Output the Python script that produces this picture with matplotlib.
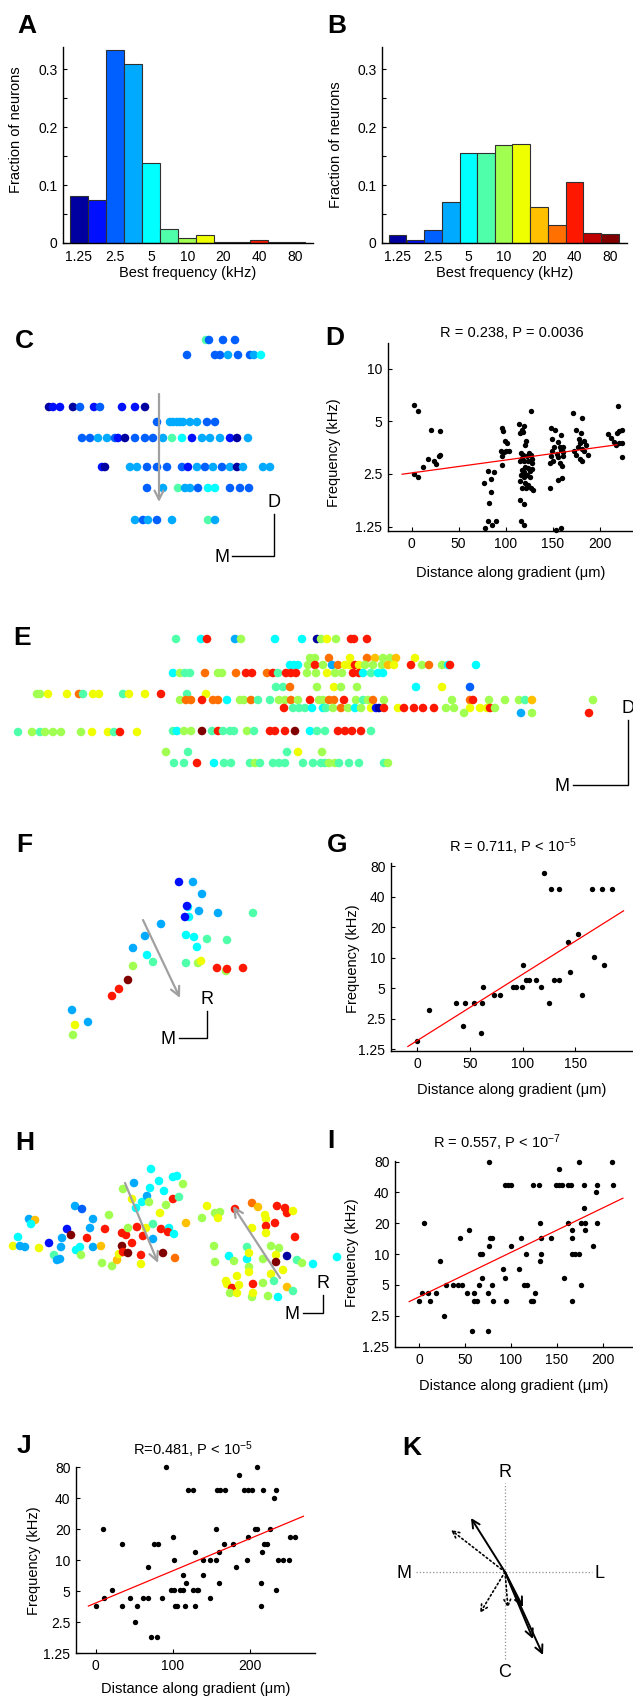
import matplotlib
matplotlib.use('Agg')
import matplotlib.pyplot as plt
from matplotlib.ticker import NullLocator

plt.rcParams['font.family'] = ['Liberation Sans', 'DejaVu Sans']
plt.rcParams['mathtext.fontset'] = 'custom'
plt.rcParams['mathtext.rm'] = 'Liberation Sans'
plt.rcParams['mathtext.it'] = 'Liberation Sans:italic'
plt.rcParams['font.size'] = 10.5

# ---------------- data ----------------
bin_khz = [1.25, 1.77, 2.5, 3.54, 5, 7.07, 10, 14.1, 20, 28.3, 40, 56.6, 80]
bin_colors = ['#0000a0', '#0010ff', '#0060ff', '#00aaff', '#00ffff', '#50ffaa',
              '#a0ff50', '#f0ff00', '#ffc000', '#ff7000', '#ff1800', '#c00000', '#800000']
freq_ticks = [1.25, 2.5, 5, 10, 20, 40, 80]
freq_labels = ['1.25', '2.5', '5', '10', '20', '40', '80']

frac_a = [0.081, 0.075, 0.332, 0.309, 0.138, 0.024, 0.009, 0.013, 0.002, 0.001, 0.006, 0.002, 0.002]
frac_b = [0.013, 0.005, 0.023, 0.071, 0.156, 0.155, 0.169, 0.171, 0.062, 0.031, 0.106, 0.018, 0.016]

# imaging field maps: (x, y, frequency bin)
map_c = [(206, 340, 5), (209, 340, 2), (223, 340, 2), (235, 340, 2),
         (187, 355, 2), (215, 355, 2), (220, 355, 2), (228, 355, 3), (238, 355, 2), (250, 355, 2), (254, 355, 3), (261, 355, 4),
         (49, 407, 0), (53, 407, 1), (60, 407, 1), (73, 407, 0), (80, 407, 2), (94, 407, 1), (100, 407, 2), (122, 407, 1), (135, 407, 1), (145, 407, 0),
         (157, 422, 2), (170, 422, 3), (173, 422, 3), (177, 422, 3), (180, 422, 3), (183, 422, 3), (190, 422, 3), (197, 422, 3), (207, 422, 2), (215, 422, 2),
         (82, 438, 2), (90, 438, 2), (98, 438, 3), (107, 438, 3), (115, 438, 2), (118, 438, 1), (125, 438, 0), (135, 438, 2), (145, 438, 2), (153, 438, 2),
         (163, 438, 3), (172, 438, 5), (182, 438, 4), (192, 438, 1), (202, 438, 3), (210, 438, 3), (220, 438, 3), (230, 438, 1), (237, 438, 0), (248, 438, 3),
         (102, 467, 1), (105, 467, 0), (130, 467, 3), (137, 467, 3), (147, 467, 2), (157, 467, 2), (167, 467, 2), (182, 467, 2), (188, 467, 1),
         (197, 467, 3), (205, 467, 2), (213, 467, 3), (222, 467, 2), (230, 467, 3), (237, 467, 0), (243, 467, 3), (263, 467, 3), (270, 467, 3),
         (147, 488, 2), (163, 488, 3), (178, 488, 5), (185, 488, 3), (190, 488, 3), (198, 488, 2), (208, 488, 4), (215, 488, 4), (230, 488, 2), (240, 488, 2), (249, 488, 2),
         (135, 520, 3), (143, 520, 2), (148, 520, 3), (157, 520, 2), (172, 520, 3), (208, 520, 5), (215, 520, 3)]

map_e = [(176, 639, 5), (201, 639, 4), (207, 639, 10), (235, 639, 3), (241, 639, 6), (275, 639, 4), (302, 639, 4), (317, 639, 0), (321, 639, 6),
         (327, 639, 7), (336, 639, 6), (351, 639, 10), (354, 639, 10), (367, 639, 10),
         (310, 658, 6), (315, 658, 6), (329, 658, 9), (350, 658, 7), (367, 658, 9), (375, 658, 8), (383, 658, 6), (390, 658, 6), (396, 658, 8), (415, 658, 7),
         (290, 665, 4), (294, 665, 4), (298, 665, 4), (308, 665, 6), (315, 665, 10), (323, 665, 6), (332, 665, 3), (338, 665, 9), (345, 665, 7), (350, 665, 7),
         (355, 665, 10), (359, 665, 7), (365, 665, 6), (373, 665, 6), (382, 665, 6), (388, 665, 8), (394, 665, 7), (411, 665, 10), (422, 665, 6), (429, 665, 9),
         (442, 665, 6), (448, 665, 4), (450, 665, 10), (476, 665, 4),
         (173, 673, 4), (180, 673, 6), (185, 673, 5), (190, 673, 5), (205, 673, 9), (218, 673, 6), (222, 673, 6), (236, 673, 9), (246, 673, 10), (252, 673, 10),
         (267, 673, 9), (273, 673, 10), (278, 673, 5), (286, 673, 10), (291, 673, 10), (296, 673, 10), (307, 673, 6), (316, 673, 6), (327, 673, 7), (335, 673, 6),
         (342, 673, 6), (353, 673, 10), (359, 673, 10), (363, 673, 4), (371, 673, 5), (378, 673, 4), (383, 673, 4),
         (276, 687, 5), (283, 687, 5), (290, 687, 9), (317, 687, 6), (334, 687, 7), (341, 687, 6), (357, 687, 6), (416, 687, 4), (442, 687, 7), (470, 687, 2),
         (37, 694, 6), (40, 694, 6), (48, 694, 7), (67, 694, 7), (79, 694, 9), (83, 694, 5), (93, 694, 7), (99, 694, 7), (123, 694, 5), (129, 694, 7),
         (145, 694, 7), (161, 694, 10), (187, 694, 5), (206, 694, 7),
         (180, 700, 6), (186, 700, 9), (191, 700, 9), (202, 700, 10), (213, 700, 9), (218, 700, 9), (227, 700, 4), (240, 700, 6), (244, 700, 6), (251, 700, 9),
         (258, 700, 5), (270, 700, 5), (279, 700, 6), (285, 700, 6), (291, 700, 9), (298, 700, 6), (310, 700, 10), (319, 700, 6), (323, 700, 6), (329, 700, 9),
         (334, 700, 9), (344, 700, 10), (356, 700, 6), (363, 700, 5), (368, 700, 6), (373, 700, 9), (384, 700, 6), (452, 700, 6), (470, 700, 9), (473, 700, 10),
         (489, 700, 6), (505, 700, 6), (519, 700, 6), (525, 700, 5), (532, 700, 8), (593, 700, 6),
         (284, 708, 10), (293, 708, 5), (299, 708, 5), (305, 708, 5), (312, 708, 4), (323, 708, 4), (326, 708, 5), (333, 708, 6), (341, 708, 9), (348, 708, 6),
         (355, 708, 4), (361, 708, 6), (371, 708, 7), (376, 708, 1), (379, 708, 0), (384, 708, 10), (398, 708, 7), (404, 708, 10), (414, 708, 10), (423, 708, 10),
         (434, 708, 10), (446, 708, 6), (454, 708, 6), (470, 708, 7), (480, 708, 7), (487, 708, 7), (490, 708, 10), (495, 708, 6),
         (464, 713, 6), (521, 713, 3), (532, 713, 6), (589, 713, 10),
         (18, 732, 5), (32, 732, 6), (40, 732, 5), (45, 732, 6), (53, 732, 6), (61, 732, 6), (81, 732, 6), (92, 732, 7), (108, 732, 7), (114, 732, 5),
         (120, 732, 10), (137, 732, 7),
         (173, 731, 5), (177, 731, 4), (184, 731, 6), (191, 731, 6), (202, 731, 12), (212, 731, 5), (218, 731, 10), (223, 731, 5), (230, 731, 5), (234, 731, 5),
         (247, 731, 6), (254, 731, 5), (270, 731, 10), (275, 731, 10), (285, 731, 10), (295, 731, 12), (310, 731, 4), (317, 731, 5), (325, 731, 5), (338, 731, 10),
         (345, 731, 10), (352, 731, 10), (361, 731, 10), (371, 731, 5),
         (166, 752, 6), (188, 752, 5), (287, 752, 5), (298, 752, 7), (322, 752, 6),
         (174, 763, 5), (184, 763, 5), (197, 763, 10), (214, 763, 4), (224, 763, 5), (231, 763, 5), (250, 763, 5), (255, 763, 6), (260, 763, 5), (273, 763, 5),
         (279, 763, 5), (285, 763, 5), (303, 763, 5), (313, 763, 5), (321, 763, 5), (325, 763, 5), (329, 763, 6), (335, 763, 6), (339, 763, 5), (349, 763, 5),
         (359, 763, 5), (384, 763, 5), (388, 763, 6)]

map_f = [(179, 882, 1), (193, 882, 3), (202, 894, 3), (188, 907, 4), (187, 906, 1), (199, 911, 3), (218, 913, 3), (253, 913, 5), (189, 917, 4),
         (185, 917, 1), (161, 924, 3), (145, 936, 3), (133, 948, 3), (186, 935, 4), (194, 937, 4), (207, 939, 5), (227, 940, 5), (197, 947, 4),
         (147, 955, 4), (153, 962, 5), (186, 963, 5), (198, 963, 6), (201, 961, 7), (217, 968, 10), (226, 971, 6), (227, 969, 10), (243, 968, 10),
         (133, 966, 6), (128, 980, 12), (119, 989, 10), (112, 996, 10), (72, 1010, 3), (88, 1022, 3), (75, 1025, 7), (73, 1035, 6)]

map_h = [(29, 1219, 3), (35, 1220, 8), (31, 1224, 4), (18, 1237, 4), (13, 1246, 7), (20, 1246, 3), (25, 1247, 3), (39, 1248, 7), (49, 1243, 1),
         (54, 1255, 5), (57, 1260, 3), (60, 1259, 3), (61, 1247, 3), (62, 1238, 3), (67, 1229, 1), (71, 1235, 12), (75, 1206, 3), (82, 1209, 2),
         (76, 1250, 4), (80, 1247, 4), (81, 1255, 6), (87, 1238, 10), (90, 1228, 3), (93, 1219, 3), (93, 1247, 3), (101, 1246, 8), (109, 1215, 6),
         (105, 1229, 10), (102, 1263, 6), (112, 1266, 6), (117, 1260, 8), (119, 1254, 7), (122, 1246, 12), (123, 1252, 10), (122, 1233, 10),
         (126, 1235, 10), (128, 1253, 12), (128, 1228, 6), (123, 1189, 6), (132, 1243, 10), (134, 1183, 3), (132, 1199, 7), (137, 1227, 10),
         (136, 1208, 4), (142, 1202, 4), (143, 1236, 10), (141, 1255, 10), (141, 1264, 7), (146, 1228, 7), (147, 1196, 3), (150, 1188, 4),
         (149, 1202, 6), (151, 1169, 4), (153, 1224, 5), (153, 1239, 3), (159, 1181, 4), (160, 1213, 7), (161, 1229, 10), (163, 1253, 12),
         (164, 1191, 4), (166, 1205, 6), (169, 1228, 4), (168, 1232, 10), (173, 1199, 10), (175, 1258, 9), (174, 1234, 4), (173, 1177, 4),
         (177, 1176, 4), (179, 1197, 5), (183, 1184, 6),
         (186, 1223, 8), (202, 1218, 6), (207, 1206, 7), (215, 1213, 6), (220, 1212, 6), (218, 1218, 7), (214, 1246, 6), (215, 1262, 6),
         (229, 1256, 4), (235, 1209, 10), (234, 1261, 6), (226, 1281, 7), (227, 1284, 7), (232, 1288, 10), (230, 1293, 6), (237, 1276, 7),
         (239, 1285, 7), (237, 1293, 7), (247, 1259, 4), (247, 1247, 5), (249, 1253, 7), (252, 1203, 9), (258, 1207, 8), (249, 1267, 6),
         (249, 1272, 7), (252, 1228, 7), (253, 1284, 10), (252, 1297, 6), (253, 1293, 7), (265, 1215, 7), (266, 1219, 7), (266, 1226, 10),
         (266, 1233, 7), (275, 1223, 10), (277, 1206, 10), (285, 1208, 10), (287, 1213, 10), (293, 1211, 7), (295, 1237, 10), (263, 1259, 6),
         (271, 1246, 6), (279, 1248, 6), (276, 1255, 7), (276, 1262, 12), (283, 1270, 7), (271, 1274, 7), (263, 1283, 6), (274, 1281, 5),
         (287, 1256, 0), (287, 1287, 8), (293, 1291, 5), (297, 1260, 5), (302, 1263, 6), (268, 1296, 6), (278, 1297, 4), (313, 1264, 4),
         (337, 1257, 4)]

# gradient arrows in the maps: (x start, y start, x end, y end)
grad_c = [(159, 394, 159, 502)]
grad_f = [(143, 920, 180, 998)]
grad_h = [(125, 1183, 158, 1263), (280, 1278, 233, 1206)]

# distance along gradient (um), best frequency (kHz)
pts_d = [(2.8, 6.23), (6.4, 5.7), (2.1, 2.49), (6.4, 2.39), (12.4, 2.73), (17, 3.05), (20.5, 4.48), (30, 4.38), (24, 2.95), (26, 2.85),
         (29, 3.15), (30.4, 3.2),
         (77, 2.21), (81.4, 2.61), (83.9, 2.35), (87.8, 2.55), (84.2, 1.97), (82, 1.70), (81.4, 1.35), (77.8, 1.22), (85, 1.28), (90, 1.34),
         (95.5, 4.58), (97.3, 4.38), (99, 3.84), (101, 3.76), (94.8, 3.36), (97.7, 3.32), (100, 3.39), (103, 3.36), (95.5, 2.82), (96, 3.15),
         (114, 4.8), (116.8, 4.48), (119.6, 4.67), (118.5, 4.35), (115, 4.29), (121, 3.84), (120.3, 3.64), (116, 3.30), (118.5, 3.22),
         (122, 3.15), (124.6, 3.30), (126.7, 3.22), (116.8, 3.08), (115, 2.95), (119, 2.95), (123.8, 2.95), (127.4, 3.05), (128, 2.87),
         (120.3, 2.75), (123.8, 2.70), (116.8, 2.64), (119.6, 2.55), (125.6, 2.59), (128, 2.66), (116, 2.47), (119, 2.41), (122.4, 2.47),
         (125.6, 2.41), (115, 2.27), (120.3, 2.22), (123.8, 2.15), (117.5, 2.07), (121, 2.07), (126.7, 2.07), (128.5, 2.02), (115, 1.78),
         (119.6, 1.68), (116, 1.35), (119.6, 1.28), (126.7, 5.7),
         (148, 4.58), (152, 4.44), (149, 3.98), (159, 4.20), (155.7, 3.81), (151.5, 3.58), (157.5, 3.56), (161, 3.58), (148.6, 3.36),
         (154, 3.27), (158.5, 3.44), (160.6, 3.34), (148, 3.18), (155.7, 3.12), (161, 3.15), (150.5, 2.95), (157, 2.87), (146.8, 2.89),
         (160, 2.79), (146.8, 2.09), (160, 2.38), (155.7, 2.32), (152.9, 1.20), (159, 1.22),
         (171.6, 5.6), (180.5, 5.2), (174, 4.48), (179.8, 4.29), (177.6, 3.98), (182.6, 3.84), (178.7, 3.76), (184.7, 3.68), (177, 3.58),
         (180.5, 3.48), (183.3, 3.36), (186.8, 3.22), (175, 3.22), (178.7, 3.05), (180.5, 2.95), (172.6, 3.39),
         (218.7, 6.15), (208.8, 4.23), (211.6, 4.0), (217.6, 4.26), (220, 4.38), (223, 4.48), (215, 3.81), (220, 3.76), (223.6, 3.76),
         (223, 3.14), (217, 3.64)]

pts_g = [(0, 1.52), (11.1, 3.05), (36.8, 3.6), (45.7, 3.6), (54.3, 3.6), (61.9, 3.6), (43.2, 2.13), (61, 1.79), (62.9, 5.1), (73, 4.29),
         (78.7, 4.29), (90.8, 5.1), (94, 5.1), (100.3, 8.5), (99.7, 5.1), (103, 6.06), (106, 6.06), (112.7, 6.06), (117.5, 5.1), (120, 68.7),
         (127, 48), (134.6, 48), (124.8, 3.6), (129.5, 6.06), (134.9, 6.06), (143.5, 14.4), (145.4, 7.16), (152.4, 17.1), (156.8, 4.29),
         (167.6, 10.1), (177.8, 8.5), (166.3, 48), (175.2, 48), (185.4, 48)]

pts_i = [(0, 3.5), (2.9, 4.17), (5.5, 20), (10.2, 4.17), (12.4, 3.5), (18.2, 4.17), (22.9, 8.5), (27.6, 2.5), (29.1, 5), (36.7, 5),
         (42.2, 5), (44.7, 14.2), (46.5, 5), (52.4, 4.17), (54.5, 17), (57.5, 1.77), (60, 4.17), (60, 3.5), (62.9, 3.5), (65.8, 5), (66.9, 10),
         (69.1, 10), (68.4, 5.9), (75.6, 4.17), (75.6, 1.77), (76.4, 80), (76.7, 11.9), (77.5, 14.2), (79.3, 14.2), (80, 5), (81.1, 3.5),
         (92, 7.1), (93.8, 5.9), (94.5, 3.5), (93.8, 47.6), (96.7, 47.6), (100, 47.6), (100.4, 11.9), (108.4, 7.1), (111.3, 14.2), (114.9, 5),
         (117.5, 5), (116.4, 10), (121.8, 3.5), (124.4, 3.5), (124, 47.6), (126.5, 4.17), (130.9, 47.6), (131.3, 20), (131.3, 8.5),
         (132.7, 14.2), (133.1, 10), (143.6, 14.2), (149.1, 47.6), (152, 47.6), (152.7, 67.8), (155.6, 47.6), (158.2, 5.9), (162.2, 20),
         (162.2, 47.6), (165.8, 47.6), (166.5, 14.2), (166.5, 17), (166.5, 3.5), (166.5, 10), (169.5, 10), (173.8, 10), (174.5, 80),
         (176.4, 20), (176.7, 5), (179.3, 47.6), (180, 28.3), (181, 20), (181, 17), (189, 11.9), (193.1, 40), (193.8, 47.6), (193.8, 20),
         (210.2, 80), (211.6, 47.6)]

pts_j = [(0, 3.57), (9.1, 20), (11.2, 4.27), (21.6, 5.07), (33.7, 14.2), (33.7, 3.57), (44.5, 4.27), (53.1, 3.57), (51, 2.5), (60.9, 4.27),
         (67.8, 4.27), (67.4, 8.5), (71.3, 1.79), (79, 1.79), (75.6, 14.2), (81.2, 14.2), (86.4, 4.27), (90.7, 80), (97.2, 5.07), (99.8, 16.8),
         (101.5, 10), (101.5, 5.07), (102.8, 3.57), (105, 3.57), (109.3, 5.07), (112.7, 5.07), (112.7, 7.15), (116.2, 3.57), (117, 6.0),
         (120.1, 47.5), (126.6, 47.5), (125.7, 5.07), (128.7, 12), (128.7, 3.57), (130.9, 5.07), (133, 5.07), (138.7, 10), (139.5, 7.15),
         (148.2, 4.27), (148.2, 10), (155.9, 20), (155.9, 10), (157.7, 47.5), (161.1, 47.5), (159.4, 12), (159.8, 6), (166.3, 14.2),
         (167.6, 47.5), (178.4, 14.2), (181.4, 8.5), (186.2, 67.3), (192.7, 47.5), (195.7, 10), (197.8, 47.5), (197.8, 16.8), (203, 47.5),
         (206.5, 20), (208.6, 80), (209.5, 20), (213.8, 6), (214.3, 3.57), (215.1, 12), (217.3, 47.5), (218.6, 14.2), (221.6, 14.2),
         (225.1, 20), (231.1, 40), (233.3, 47.5), (233.7, 5.07), (236.7, 10), (243.2, 10), (250.5, 10), (251.8, 16.8), (258.3, 16.8)]

# regression lines: (x0, x1), (f0, f1)
fit_d = ((-10, 218), (2.49, 3.67))
fit_g = ((-9, 196), (1.33, 29.0))
fit_i = ((-10.5, 222), (3.44, 35.1))
fit_j = ((-9.5, 269), (3.57, 26.6))

# gradient vectors of single fields (K), rostral up
k_solid = [(-34, 54), (38, -83), (28, -67), (18, -35)]
k_dotted = [(-54, 42), (-25, -41), (3, -36)]

# ---------------- figure ----------------
W, H = 633, 1701
fig = plt.figure(figsize=(W / 100, H / 100), dpi=100)


def px_axes(x0, y0, x1, y1):
    return fig.add_axes([x0 / W, 1 - y1 / H, (x1 - x0) / W, (y1 - y0) / H])


def map_axes(x0, y0, x1, y1):
    ax = px_axes(x0, y0, x1, y1)
    ax.set_xlim(x0, x1)
    ax.set_ylim(y1, y0)
    ax.set_axis_off()
    return ax


def letter(x, y, s):
    fig.text(x / W, 1 - y / H, s, fontsize=19, fontweight='bold', ha='left', va='baseline')


def style(ax):
    ax.spines[['top', 'right']].set_visible(False)
    for sp in ('left', 'bottom'):
        ax.spines[sp].set_linewidth(1.0)
    ax.tick_params(direction='in', length=3, width=0.8, labelsize=10, pad=4)


def place_labels(ax, box, ylab_right, ylab_mid, xlab_top):
    # ylabel anchor = right edge of rotated text, xlabel anchor = top of text
    bw, bh = box[2] - box[0], box[3] - box[1]
    ax.yaxis.set_label_coords((ylab_right - box[0]) / bw, (box[3] - ylab_mid) / bh)
    ax.xaxis.set_label_coords(0.5, (box[3] - xlab_top) / bh)


def hist_panel(box, fracs, ylab_right, ylab_mid):
    ax = px_axes(*box)
    lefts = [f * 2 ** -0.25 for f in bin_khz]
    widths = [f * (2 ** 0.25 - 2 ** -0.25) for f in bin_khz]
    ax.bar(lefts, fracs, width=widths, align='edge', color=bin_colors,
           edgecolor='#303030', linewidth=0.8)
    ax.set_xscale('log', base=2)
    ax.set_xlim(0.92, 112)
    ax.set_ylim(0, 0.338)
    ax.set_xticks(freq_ticks)
    ax.set_xticklabels(freq_labels)
    ax.xaxis.set_minor_locator(NullLocator())
    ax.set_yticks([0, 0.05, 0.1, 0.15, 0.2, 0.25, 0.3])
    ax.set_yticklabels(['0', '', '0.1', '', '0.2', '', '0.3'])
    style(ax)
    ax.tick_params(axis='x', length=0, pad=5)
    ax.set_xlabel('Best frequency (kHz)', fontsize=10.5)
    ax.set_ylabel('Fraction of neurons', fontsize=10.5)
    place_labels(ax, box, ylab_right, ylab_mid, 266)
    return ax


hist_panel((63, 47, 313, 243), frac_a, 23, 130)
hist_panel((382, 47, 627, 243), frac_b, 343, 145)


def scatter_panel(box, xlim, ylim, pts, fit, xticks, yticks, title, title_xy, ylab, xlab_top):
    ax = px_axes(*box)
    xs = [p[0] for p in pts]
    fs = [p[1] for p in pts]
    ax.scatter(xs, fs, s=15, c='k', linewidths=0, clip_on=False, zorder=3)
    ax.plot(fit[0], fit[1], color='red', lw=0.9, zorder=4)
    ax.set_yscale('log', base=2)
    ax.set_xlim(*xlim)
    ax.set_ylim(*ylim)
    ax.set_yticks(yticks)
    ax.set_yticklabels([freq_labels[freq_ticks.index(t)] for t in yticks])
    ax.yaxis.set_minor_locator(NullLocator())
    ax.set_xticks(xticks)
    style(ax)
    ax.set_ylabel('Frequency (kHz)', fontsize=10.5)
    ax.set_xlabel('Distance along gradient (\u03bcm)', fontsize=10.5)
    place_labels(ax, box, ylab[0], ylab[1], xlab_top)
    bw, bh = box[2] - box[0], box[3] - box[1]
    ax.text((title_xy[0] - box[0]) / bw, (box[3] - title_xy[1]) / bh, title,
            transform=ax.transAxes, ha='center', va='center', fontsize=10.5)
    return ax


scatter_panel((388, 343, 633, 531), (-25, 235), (1.18, 14), pts_d, fit_d,
              [0, 50, 100, 150, 200], [1.25, 2.5, 5, 10],
              'R = 0.238, P = 0.0036', (512, 333), (341, 453), 566)
scatter_panel((391, 863, 633, 1051), (-25, 205), (1.2, 86), pts_g, fit_g,
              [0, 50, 100, 150], freq_ticks,
              'R = 0.711, P < 10$^{\\mathregular{-5}}$', (513, 847), (360, 959), 1083)
scatter_panel((395, 1161, 633, 1347), (-26, 233), (1.24, 81), pts_i, fit_i,
              [0, 50, 100, 150, 200], freq_ticks,
              'R = 0.557, P < 10$^{\\mathregular{-7}}$', (497, 1143), (359, 1253), 1379)
scatter_panel((76, 1467, 315, 1653), (-25.5, 284), (1.25, 80), pts_j, fit_j,
              [0, 100, 200], freq_ticks,
              'R=0.481, P < 10$^{\\mathregular{-5}}$', (193, 1450), (41, 1561), 1682)


def map_panel(box, pts, grads, bar_x, bar_y, bar_len, labels):
    ax = map_axes(*box)
    ax.scatter([p[0] for p in pts], [p[1] for p in pts], s=38,
               c=[bin_colors[p[2]] for p in pts], linewidths=0)
    for x0, y0, x1, y1 in grads:
        ax.annotate('', xy=(x1, y1), xytext=(x0, y0),
                    arrowprops=dict(arrowstyle='->', color='#a0a0a0', lw=1.6,
                                    mutation_scale=16, shrinkA=0, shrinkB=0))
    # orientation bar
    ax.plot([bar_x - bar_len[0], bar_x, bar_x], [bar_y, bar_y, bar_y - bar_len[1]],
            color='k', lw=1.0, solid_joinstyle='miter')
    ax.text(bar_x - bar_len[0] - 3, bar_y + 1, labels[0], fontsize=13, ha='right', va='center')
    ax.text(bar_x, bar_y - bar_len[1] - 3, labels[1], fontsize=13, ha='center', va='bottom')
    return ax


map_panel((0, 315, 315, 640), map_c, grad_c, 274, 556, (42, 42), ('M', 'D'))
map_panel((0, 620, 633, 800), map_e, [], 628, 785, (55, 65), ('M', 'D'))
map_panel((0, 860, 315, 1090), map_f, grad_f, 207, 1038, (28, 27), ('M', 'R'))
map_panel((0, 1155, 345, 1330), map_h, grad_h, 323, 1313, (20, 18), ('M', 'R'))

# K: summary of gradient directions
ax = px_axes(325, 1430, 633, 1701)
ax.set_xlim(-180, 128)
ax.set_ylim(-129, 142)
ax.set_axis_off()
ax.plot([-89, 87], [0, 0], color='#909090', lw=0.9, ls=':')
ax.plot([0, 0], [-87, 89], color='#909090', lw=0.9, ls=':')
for dx, dy in k_dotted:
    ax.annotate('', xy=(dx, dy), xytext=(0, 0),
                arrowprops=dict(arrowstyle='->', color='k', lw=1.2, ls=':',
                                mutation_scale=12, shrinkA=0, shrinkB=0))
for dx, dy in k_solid:
    ax.annotate('', xy=(dx, dy), xytext=(0, 0),
                arrowprops=dict(arrowstyle='->', color='k', lw=1.4,
                                mutation_scale=14, shrinkA=0, shrinkB=0))
ax.text(0, 100, 'R', fontsize=13, ha='center', va='center')
ax.text(0, -100, 'C', fontsize=13, ha='center', va='center')
ax.text(-101, -1, 'M', fontsize=13, ha='center', va='center')
ax.text(95, -1, 'L', fontsize=13, ha='center', va='center')

for x, y, s in [(17, 33, 'A'), (327, 33, 'B'), (15, 348, 'C'), (325, 345, 'D'), (13, 645, 'E'),
                (16, 852, 'F'), (327, 852, 'G'), (15, 1150, 'H'), (327, 1148, 'I'), (17, 1453, 'J'),
                (402, 1455, 'K')]:
    letter(x, y, s)

fig.savefig('out.png', dpi=100)
